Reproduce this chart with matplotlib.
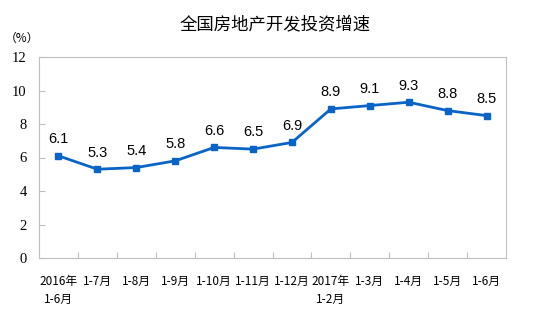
import matplotlib
matplotlib.use("Agg")
import matplotlib.pyplot as plt

plt.rcParams['font.family'] = ['Noto Sans CJK SC', 'DejaVu Sans']

categories = ['2016年\n1-6月', '1-7月', '1-8月', '1-9月', '1-10月', '1-11月', '1-12月',
              '2017年\n1-2月', '1-3月', '1-4月', '1-5月', '1-6月']
values = [6.1, 5.3, 5.4, 5.8, 6.6, 6.5, 6.9, 8.9, 9.1, 9.3, 8.8, 8.5]
y_ticks = [0, 2, 4, 6, 8, 10, 12]

fig = plt.figure(figsize=(5.54, 3.35), dpi=100)
ax = fig.add_axes([39 / 554, 1 - 258 / 335, (506 - 39) / 554, (258 - 57) / 335])

x = list(range(len(values)))
ax.plot(x, values, color='#0a64c8', linewidth=2, marker='s', markersize=5)

for xi, v in zip(x, values):
    ax.annotate(f'{v}', (xi, v), xytext=(0, 7), textcoords='offset points',
                ha='center', va='bottom', fontsize=10.5, family='Liberation Sans')

ax.set_xlim(-0.5, len(values) - 0.5)
ax.set_ylim(0, 12)
ax.set_yticks(y_ticks)
ax.set_yticklabels([str(t) for t in y_ticks], family='Liberation Serif', fontsize=10.5)

# category ticks sit between points
ax.set_xticks([i + 0.5 for i in range(len(values) - 1)])
ax.set_xticklabels([])
ax.tick_params(axis='x', direction='in', length=4, color='#bfbfbf')
ax.tick_params(axis='y', direction='in', length=4, color='#bfbfbf', pad=9)
for xi, lab in zip(x, categories):
    ax.text(xi, -1.0, lab, ha='center', va='top', fontsize=8.5, linespacing=1.5)

for s in ax.spines.values():
    s.set_color('#bfbfbf')

fig.text(275 / 554, 1 - 24 / 335, '全国房地产开发投资增速', ha='center', va='center', fontsize=12.5)
fig.text(22 / 554, 1 - 38 / 335, '（%）', ha='center', va='center', fontsize=8.5)

fig.savefig('out.png', dpi=100)
